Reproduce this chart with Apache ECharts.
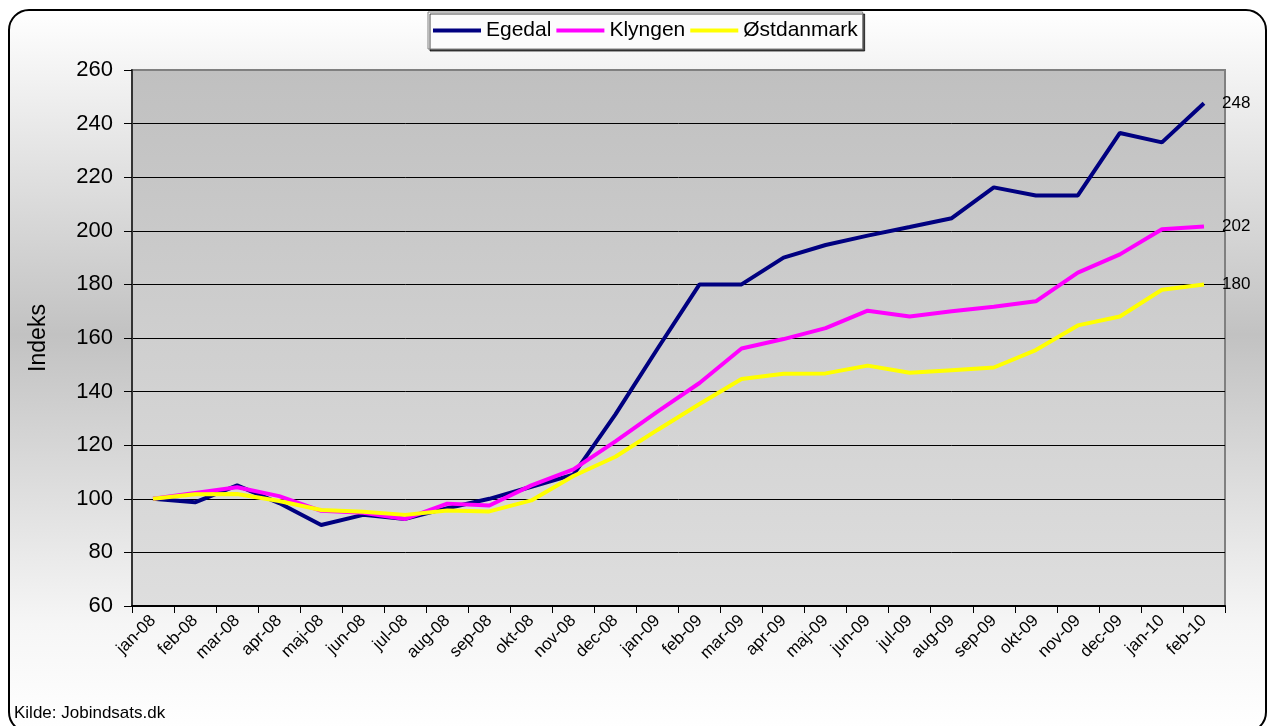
<!DOCTYPE html>
<html>
<head>
<meta charset="utf-8">
<script src="https://cdn.jsdelivr.net/npm/echarts@6/dist/echarts.min.js"></script>
<style>
html, body { margin: 0; padding: 0; background: #fff; }
#container { width: 1268px; height: 726px; }
</style>
</head>
<body>
<div id="container"></div>
<script>
// data
var months = ['jan-08', 'feb-08', 'mar-08', 'apr-08', 'maj-08', 'jun-08', 'jul-08', 'aug-08', 'sep-08', 'okt-08', 'nov-08', 'dec-08',
    'jan-09', 'feb-09', 'mar-09', 'apr-09', 'maj-09', 'jun-09', 'jul-09', 'aug-09', 'sep-09', 'okt-09', 'nov-09', 'dec-09',
    'jan-10', 'feb-10'];
var egedal = [100, 98.7, 105, 98.4, 90.2, 94, 92.5, 96.5, 100, 104.5, 109, 131.5,
    156, 180, 180, 190, 194.7, 198.2, 201.4, 204.7, 216.2, 213.2, 213.2, 236.5, 233, 247.6];
var klyngen = [100, 102.2, 104.3, 101, 95.5, 94.8, 92.5, 98.2, 97.5, 105, 111, 121.4,
    132.5, 143.2, 156.1, 159.6, 163.7, 170.2, 168, 170, 171.7, 173.7, 184.4, 191.2, 200.6, 201.6];
var ostdanmark = [100, 101.7, 101.8, 99.2, 95.8, 95.2, 94, 95.6, 95.3, 99.4, 108.5, 115.7,
    125.7, 135.4, 144.7, 146.7, 146.8, 149.7, 147, 148, 149, 155.5, 164.7, 168, 178, 180];

var dom = document.getElementById('container');
var myChart = echarts.init(dom);

var font = 'Liberation Sans, Arial, sans-serif';

function lineSeries(name, data, color) {
    return {
        name: name,
        type: 'line',
        data: data,
        showSymbol: false,
        symbol: 'none',
        animation: false,
        lineStyle: { color: color, width: 4 },
        itemStyle: { color: color },
        endLabel: {
            show: true,
            distance: 18,
            color: '#000',
            fontFamily: font,
            fontSize: 17,
            formatter: function (p) { return Math.round(p.value); }
        }
    };
}

var option = {
    animation: false,
    textStyle: { fontFamily: font },
    graphic: [{
        // rounded frame with grey gradient
        type: 'rect',
        z: -10,
        shape: { x: 9, y: 10, width: 1257, height: 722, r: 20 },
        style: {
            fill: new echarts.graphic.LinearGradient(0, 0, 0, 1, [
                { offset: 0, color: '#ffffff' },
                { offset: 0.45, color: '#c2c2c2' },
                { offset: 0.85, color: '#f6f6f6' },
                { offset: 1, color: '#ffffff' }
            ]),
            stroke: '#000',
            lineWidth: 2
        }
    }, {
        type: 'text',
        left: 14,
        top: 705,
        style: { text: 'Kilde: Jobindsats.dk', fill: '#000', fontFamily: font, fontSize: 17 }
    }],
    legend: {
        left: 428,
        top: 12,
        padding: [8, 5],
        itemGap: 5,
        itemWidth: 48,
        itemHeight: 4,
        icon: 'rect',
        backgroundColor: '#fcfcfc',
        borderColor: '#808080',
        borderWidth: 1,
        shadowColor: 'rgba(0,0,0,0.7)',
        shadowOffsetX: 2,
        shadowOffsetY: 2,
        shadowBlur: 0,
        textStyle: { fontSize: 21, color: '#000', fontFamily: font },
        data: ['Egedal', 'Klyngen', 'Østdanmark']
    },
    grid: {
        left: 132,
        right: 43,
        top: 70,
        bottom: 120,
        outerBoundsMode: 'none',
        show: true,
        backgroundColor: new echarts.graphic.LinearGradient(0, 0, 0, 1, [
            { offset: 0, color: '#c0c0c0' },
            { offset: 1, color: '#dedede' }
        ]),
        borderColor: '#808080',
        borderWidth: 2
    },
    xAxis: {
        type: 'category',
        data: months,
        boundaryGap: true,
        axisLine: { lineStyle: { color: '#000', width: 2 } },
        axisTick: { show: true, length: 7, interval: 0, lineStyle: { color: '#000' } },
        axisLabel: { interval: 0, rotate: 45, margin: 12, fontSize: 17, color: '#000', fontFamily: font },
        splitLine: { show: false }
    },
    yAxis: {
        type: 'value',
        min: 60,
        max: 260,
        interval: 20,
        name: 'Indeks',
        nameLocation: 'middle',
        nameRotate: 90,
        nameGap: 82,
        nameTextStyle: { fontSize: 23, color: '#000', fontFamily: font },
        axisLine: { show: true, lineStyle: { color: '#333', width: 2 } },
        axisTick: { show: true, length: 8, lineStyle: { color: '#000' } },
        axisLabel: { fontSize: 22, color: '#000', margin: 19, fontFamily: font },
        splitLine: { show: true, showMaxLine: false, showMinLine: false, lineStyle: { color: '#000', width: 1 } }
    },
    series: [
        lineSeries('Egedal', egedal, '#000080'),
        lineSeries('Klyngen', klyngen, '#ff00ff'),
        lineSeries('Østdanmark', ostdanmark, '#ffff00')
    ]
};

myChart.setOption(option);
</script>
</body>
</html>
